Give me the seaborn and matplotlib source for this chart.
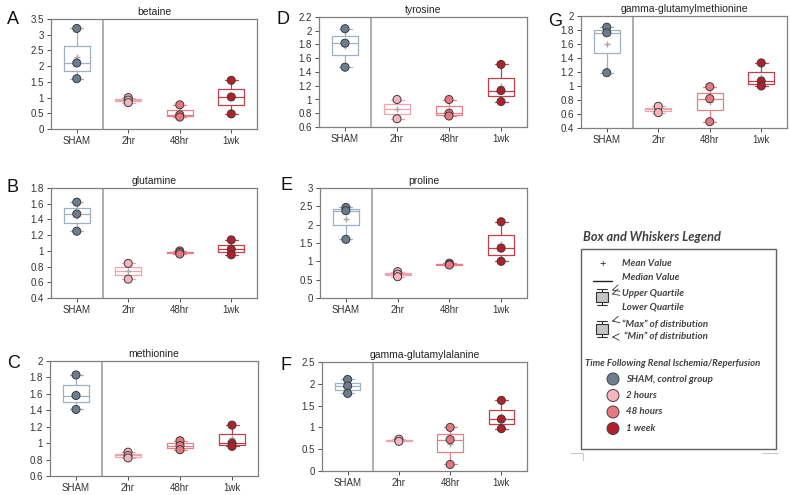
import pandas as pd
import matplotlib
matplotlib.use('Agg')
import matplotlib.pyplot as plt
from matplotlib.patches import Rectangle, Circle
from matplotlib.ticker import MultipleLocator, FuncFormatter
import seaborn as sns


# Data (relative scaled intensity)
groups = ['SHAM', '2hr', '48hr', '1wk']

betaine = [[3.2, 2.1, 1.6], [1.0, 0.92, 0.84], [0.77, 0.45, 0.38], [1.55, 1.02, 0.48]]
glutamine = [[1.62, 1.47, 1.25], [0.84, 0.64], [1.0, 0.98, 0.96], [1.14, 1.02, 0.95]]
methionine = [[1.83, 1.58, 1.41], [0.89, 0.85, 0.82], [1.03, 0.97, 0.92], [1.22, 1.0, 0.96]]
tyrosine = [[2.03, 1.82, 1.47], [1.0, 0.72], [1.0, 0.8, 0.76], [1.51, 1.13, 0.97]]
proline = [[2.47, 2.38, 1.6], [0.72, 0.65, 0.58], [0.95, 0.92, 0.9], [2.08, 1.36, 1.0]]
glu_ala = [[2.1, 1.95, 1.78], [0.73, 0.68], [1.0, 0.72, 0.15], [1.62, 1.19, 0.97]]
glu_met = [[1.84, 1.76, 1.19], [0.71, 0.62], [0.99, 0.82, 0.49], [1.33, 1.07, 1.0]]

legend_labels = ['SHAM, control group', '2 hours', '48 hours', '1 week']

box_colors = ['#9fb0c2', '#f2a4ae', '#e58088', '#c0404c']
dot_colors = ['#6c7d8f', '#f6b4bd', '#e8777e', '#b1202a']


sns.set_theme(style='white')
plt.rcParams['font.family'] = ['Liberation Sans', 'DejaVu Sans']

W, H = 790, 495
fig = plt.figure(figsize=(7.9, 4.95), dpi=100)


def rect(left, top, right, bottom):
    return [left / W, (H - bottom) / H, (right - left) / W, (bottom - top) / H]


# letter, title, data, ylim, tick step, (left, top, right, bottom) in pixels
panels = [
    ('A', 'betaine', betaine, (0, 3.5), 0.5, (51, 19, 257, 129), (7, 20)),
    ('B', 'glutamine', glutamine, (0.4, 1.8), 0.2, (51, 188, 257, 298), (7, 188)),
    ('C', 'methionine', methionine, (0.6, 2.0), 0.2, (50, 361, 258, 476), (7, 363)),
    ('D', 'tyrosine', tyrosine, (0.6, 2.2), 0.2, (319, 17, 527, 127), (276, 20)),
    ('E', 'proline', proline, (0, 3.0), 0.5, (320, 188, 527, 298), (280, 186)),
    ('F', 'gamma-glutamylalanine', glu_ala, (0, 2.5), 0.5, (322, 362, 527, 471), (280, 366)),
    ('G', 'gamma-glutamylmethionine', glu_met, (0.4, 2.0), 0.2, (581, 16, 787, 128), (548, 22)),
]

fmt = FuncFormatter(lambda v, p: '{:g}'.format(round(v, 2)))

for letter, title, values, ylim, step, box, lpos in panels:
    ax = fig.add_axes(rect(*box))

    df = pd.DataFrame(
        [(g, v) for g, vals in zip(groups, values) for v in vals],
        columns=['group', 'value']
    )

    sns.boxplot(
        data=df, x='group', y='value', hue='group',
        order=groups, hue_order=groups, palette=box_colors,
        fill=False, width=0.5, whis=(0, 100), linewidth=0.9,
        showmeans=True,
        meanprops=dict(marker='+', markeredgecolor='#a8a8a8', markersize=5),
        legend=False, ax=ax
    )

    sns.stripplot(
        data=df, x='group', y='value', hue='group',
        order=groups, hue_order=groups, palette=dot_colors,
        jitter=False, size=5.8, edgecolor='#3c3c3c', linewidth=0.7,
        legend=False, ax=ax, zorder=5
    )

    ax.axvline(0.5, color='#a0a0a0', lw=1.2, zorder=1)
    ax.set_xlim(-0.5, 3.5)
    ax.set_ylim(*ylim)
    ax.yaxis.set_major_locator(MultipleLocator(step))
    ax.yaxis.set_major_formatter(fmt)
    ax.set_xlabel('')
    ax.set_ylabel('')
    ax.set_title(title, fontsize=7.5, pad=3, color='#222222')
    ax.tick_params(axis='both', labelsize=7, colors='#333333', length=3,
                   width=0.6, direction='out', pad=2)
    ax.tick_params(axis='both', which='both', left=True, bottom=True)
    for s in ax.spines.values():
        s.set_color('#808080')
        s.set_linewidth(0.9)

    fig.text(lpos[0] / W, 1 - lpos[1] / H, letter, fontsize=13,
             va='center', ha='left', color='#111111')


# Box and whiskers legend, drawn on an overlay in pixel units
lg = fig.add_axes([0, 0, 1, 1], zorder=10)
lg.set_xlim(0, W)
lg.set_ylim(H, 0)
lg.axis('off')
lg.patch.set_alpha(0)

lfont = ['Lato', 'Open Sans', 'DejaVu Sans']
tc = '#404040'

lg.text(583, 237, 'Box and Whiskers Legend', fontsize=9.2, fontweight='bold',
        style='italic', color=tc, va='center', family=lfont)
lg.add_patch(Rectangle((581, 249), 195, 200, fill=False, ec='#606060', lw=1))

lg.text(603, 264, '+', fontsize=8, ha='center', va='center', color='#222222')
lg.text(622, 264, 'Mean Value', fontsize=7, style='italic', fontweight='bold',
        color=tc, va='center', family=lfont)
lg.plot([593, 612], [281, 281], color='#222222', lw=1)
lg.text(622, 277, 'Median Value', fontsize=7, style='italic', fontweight='bold',
        color=tc, va='center', family=lfont)


def icon(cx, top, bottom, btop, bbot):
    lg.plot([cx, cx], [top, bottom], color='#333333', lw=0.8)
    lg.plot([cx - 5, cx + 5], [top, top], color='#333333', lw=0.8)
    lg.plot([cx - 5, cx + 5], [bottom, bottom], color='#333333', lw=0.8)
    lg.add_patch(Rectangle((cx - 6, btop), 12, bbot - btop, fc='#c4c4c4',
                           ec='#333333', lw=0.8, zorder=3))


icon(602, 289, 305, 292, 302)
for y0 in (291, 295):
    lg.annotate('', xy=(609, y0), xytext=(616, y0 - 2),
                arrowprops=dict(arrowstyle='->', lw=0.6, color='#333333'))
lg.text(622, 294, 'Upper Quartile', fontsize=7, style='italic', fontweight='bold',
        color=tc, va='center', family=lfont)
lg.text(622, 307, 'Lower Quartile', fontsize=7, style='italic', fontweight='bold',
        color=tc, va='center', family=lfont)

icon(602, 321, 337, 324, 334)
lg.annotate('', xy=(609, 322), xytext=(617, 320),
            arrowprops=dict(arrowstyle='->', lw=0.6, color='#333333'))
lg.annotate('', xy=(609, 337), xytext=(617, 337),
            arrowprops=dict(arrowstyle='->', lw=0.6, color='#333333'))
lg.text(622, 324, '\u201cMax\u201d of distribution', fontsize=7, style='italic',
        fontweight='bold', color=tc, va='center', family=lfont)
lg.text(624, 336, '\u201cMin\u201d of distribution', fontsize=7, style='italic',
        fontweight='bold', color=tc, va='center', family=lfont)

lg.text(585, 363, 'Time Following Renal Ischemia/Reperfusion', fontsize=6.8,
        style='italic', fontweight='bold', color=tc, va='center', family=lfont)
for i, (lab, col) in enumerate(zip(legend_labels, dot_colors)):
    y = 379 + i * 16.5
    lg.add_patch(Circle((613, y), 6, fc=col, ec='#444444', lw=0.7))
    lg.text(626, y, lab, fontsize=7, style='italic', fontweight='bold',
            color=tc, va='center', family=lfont)

# page corner marks under the legend
lg.plot([571, 583, 583], [453, 453, 460], color='#c8c8c8', lw=0.8)
lg.plot([762, 778], [453, 453], color='#c8c8c8', lw=0.8)

fig.savefig('out.png', dpi=100)
